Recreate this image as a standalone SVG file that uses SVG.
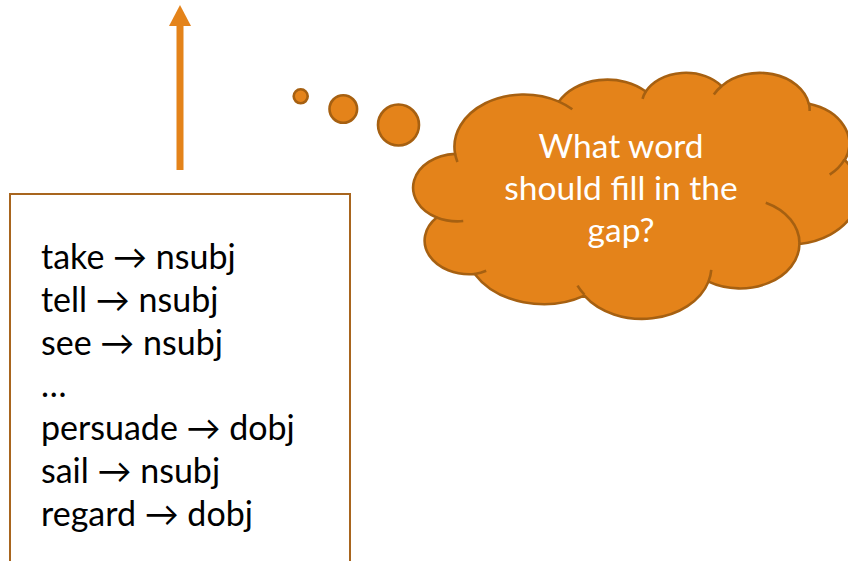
<svg xmlns="http://www.w3.org/2000/svg" width="848" height="561" viewBox="0 0 848 561">
  <defs>
    <style>
      .cloud { fill: #E4831A; stroke: #A66011; stroke-width: 2.6; vector-effect: non-scaling-stroke; stroke-linejoin: round; }
      .inner { fill: none; stroke: #A66011; stroke-width: 2.6; vector-effect: non-scaling-stroke; stroke-linecap: butt; }
      .bubble { fill: #E4831A; stroke: #A66011; stroke-width: 2.6; }
      .box { fill: #FFFFFF; stroke: #A8651E; stroke-width: 2; }
      .list { font-family: Lato, "Liberation Sans", "DejaVu Sans", sans-serif; font-size: 34px; fill: #000000; }
      .think { font-family: Lato, "Liberation Sans", "DejaVu Sans", sans-serif; font-size: 33.5px; fill: #FFFFFF; text-anchor: middle; }
      .conn { stroke: #E4831A; stroke-width: 7; fill: none; }
    </style>
    <marker id="head" viewBox="0 0 21 22" markerWidth="21" markerHeight="22" markerUnits="userSpaceOnUse" refX="0" refY="11" orient="auto">
      <path d="M0,0 L21,11 L0,22 Z" fill="#E4831A"/>
    </marker>
  </defs>

  <g id="connectors">
    <line class="conn" x1="180" y1="170" x2="180" y2="26" marker-end="url(#head)"/>
  </g>

  <g id="list-box">
    <rect class="box" x="10" y="194" width="340" height="420"/>
    <text class="list" x="41" y="269">take → nsubj</text>
    <text class="list" x="41" y="311.8">tell → nsubj</text>
    <text class="list" x="41" y="354.6">see → nsubj</text>
    <text class="list" x="41" y="397.4">…</text>
    <text class="list" x="41" y="440.2">persuade → dobj</text>
    <text class="list" x="41" y="483">sail → nsubj</text>
    <text class="list" x="41" y="525.8">regard → dobj</text>
  </g>

  <g id="thought-cloud">
    <circle class="bubble" cx="300.7" cy="96.3" r="7"/>
    <circle class="bubble" cx="343.3" cy="109" r="13.8"/>
    <circle class="bubble" cx="398.5" cy="125" r="20.5"/>
    <g transform="translate(415,72) scale(0.0102778,0.0056944)">
      <path class="cloud" d="M3900,14370 A6753,9190 0 0 1 14005,5202 A5333,7267 0 0 1 22456,3432 A4365,5945 0 0 1 29833,2481 A4857,6595 0 0 1 38318,5576 A5333,7273 0 0 1 41819,15460 A6775,9220 0 0 1 37405,30203 A5785,7867 0 0 1 28556,36813 A6752,9215 0 0 1 16481,39264 A7720,10543 0 0 1 5805,35470 A4360,5918 0 0 1 2114,25548 A4345,5945 0 0 1 3900,14370 Z"/>
      <path class="inner" d="M4693,26177 A4345,5945 0 0 1 2114,25548 M6928,34899 A4360,5918 0 0 1 5805,35470 M16478,39090 A6752,9215 0 0 1 15813,37523 M28827,34751 A6752,9215 0 0 1 28556,36813 M34129,22954 A5785,7867 0 0 1 37405,30203 M41798,15354 A5333,7273 0 0 1 40348,18032 M38324,5426 A4857,6595 0 0 1 38395,6840 M29078,3952 A4857,6595 0 0 1 29833,2481 M22141,4720 A4365,5945 0 0 1 22456,3432 M14000,5192 A6753,9190 0 0 1 15305,6550 M4127,15789 A6753,9190 0 0 1 3900,14370"/>
    </g>
    <text class="think" x="621" y="158">What word</text>
    <text class="think" x="621" y="200">should fill in the</text>
    <text class="think" x="621" y="242">gap?</text>
  </g>
</svg>
